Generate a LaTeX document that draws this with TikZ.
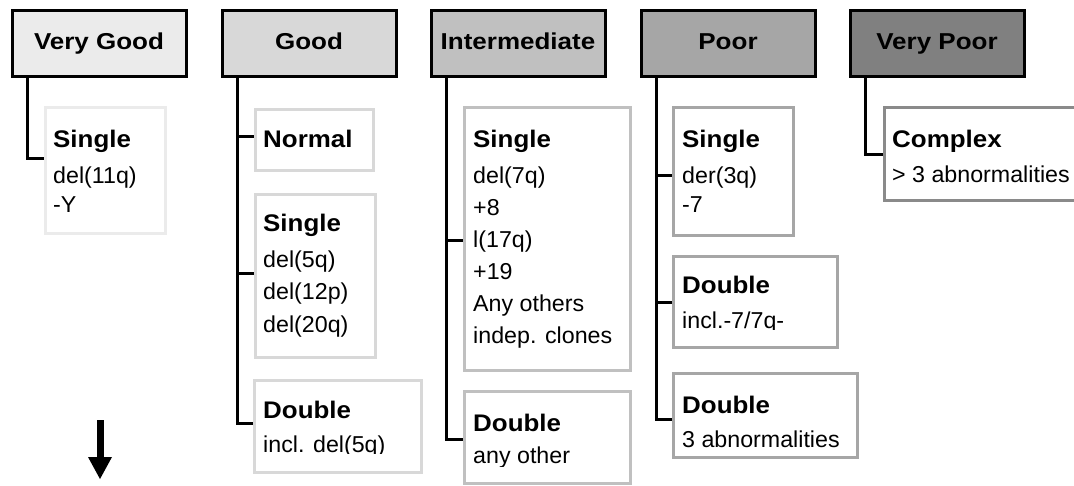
\documentclass[tikz,border=0pt]{standalone}
\usepackage{fontspec}
\newfontfamily\hdfont{Liberation Sans}[FakeStretch=1.13]
\newfontfamily\lbfont{Liberation Sans}[FakeStretch=1.08]
\newfontfamily\bodyfnt{Liberation Sans}[FakeStretch=1.01]
\newcommand\glabel[1]{{\rule{0pt}{20pt}\lbfont\bfseries\fontsize{24}{28}\selectfont #1}}
\definecolor{cvg}{HTML}{EBEBEB}
\definecolor{cgo}{HTML}{D8D8D8}
\definecolor{cin}{HTML}{C0C0C0}
\definecolor{cpo}{HTML}{A6A6A6}
\definecolor{cvp}{HTML}{808080}
\definecolor{cvpb}{HTML}{8A8A8A}
\begin{document}
\begin{tikzpicture}[x=1pt,y=-1pt,
  hdr/.style={draw=black, fill=#1, line width=3pt, minimum width=174pt, minimum height=66pt,
    inner sep=0pt, anchor=north west, font=\hdfont\bfseries\fontsize{23}{27}\selectfont,
    text height=17pt, text depth=5pt},
  cbox/.style={draw=#1, line width=3pt, fill=white, inner sep=0pt, anchor=north west},
  ctext/.style={anchor=north west, inner sep=0pt, align=left, font=\bodyfnt\fontsize{23}{#1}\selectfont},
  conn/.style={draw=black, line width=3pt}]
\useasboundingbox (0,0) rectangle (1074,485);

% headers
\node[hdr=cvg] (hvg) at (10.5,8.5) {Very Good};
\node[hdr=cgo] (hgo) at (220.5,8.5) {Good};
\node[hdr=cin] (hin) at (429.5,8.5) {Intermediate};
\node[hdr=cpo] (hpo) at (639.5,8.5) {Poor};
\node[hdr=cvp] (hvp) at (848.5,8.5) {Very Poor};

% child boxes
\node[cbox=cvg, minimum width=120pt, minimum height=126pt] (vg1) at (43.5,105.5) {};
\node[cbox=cgo, minimum width=118pt, minimum height=61pt] (go1) at (253.5,107.5) {};
\node[cbox=cgo, minimum width=120pt, minimum height=163pt] (go2) at (253.5,192.5) {};
\node[cbox=cgo, minimum width=167pt, minimum height=92pt] (go3) at (252.5,378.5) {};
\node[cbox=cin, minimum width=166pt, minimum height=263pt] (in1) at (462.5,105.5) {};
\node[cbox=cin, minimum width=166pt, minimum height=92pt] (in2) at (462.5,389.5) {};
\node[cbox=cpo, minimum width=120pt, minimum height=128pt] (po1) at (671.5,105.5) {};
\node[cbox=cpo, minimum width=164pt, minimum height=91pt] (po2) at (671.5,254.5) {};
\node[cbox=cpo, minimum width=184pt, minimum height=84pt] (po3) at (671.5,371.5) {};
\begin{scope}
  \clip (0,0) rectangle (1074,485);
  \node[cbox=cvpb, minimum width=200pt, minimum height=93pt] (vp1) at (882.5,105.5) {};
\end{scope}

% connectors
\draw[conn] ([xshift=16.5pt]hvg.south west) |- ([yshift=11.5pt]vg1.west);
\draw[conn] ([xshift=16.5pt]hgo.south west) |- ([yshift=3pt]go1.west);
\draw[conn] ([xshift=16.5pt]hgo.south west) |- ([yshift=2pt]go2.west);
\draw[conn] ([xshift=16.5pt]hgo.south west) |- ([yshift=2.5pt]go3.west);
\draw[conn] ([xshift=16.5pt]hin.south west) |- ([yshift=-2pt]in1.west);
\draw[conn] ([xshift=16.5pt]hin.south west) |- ([yshift=-2.5pt]in2.west);
\draw[conn] ([xshift=16.5pt]hpo.south west) |- ([yshift=-4.5pt]po1.west);
\draw[conn] ([xshift=16.5pt]hpo.south west) |- ([yshift=-1pt]po2.west);
\draw[conn] ([xshift=16.5pt]hpo.south west) |- ([yshift=-4.5pt]po3.west);
\draw[conn] ([xshift=16.5pt]hvp.south west) |- ([yshift=-1pt]vp1.west);

% texts (node top = first baseline - 20)
\node[ctext=29] (vg1t) at (53,127) {\glabel{Single}\\[7pt]del(11q)\\-Y};
\node[ctext=29] (go1t) at (263,127) {\glabel{Normal}};
\node[ctext=32.5] (go2t) at (263,211) {\glabel{Single}\\[3.5pt]del(5q)\\del(12p)\\del(20q)};
\begin{scope}
  \clip (250,375) rectangle (425,453.5);
  \node[ctext=30] (go3t) at (263,398) {\glabel{Double}\\[4pt]incl. del(5q)};
\end{scope}
\node[ctext=32] (in1t) at (473,127) {\glabel{Single}\\[4pt]del(7q)\\+8\\l(17q)\\+19\\Any others\\indep. clones};
\begin{scope}
  \clip (460,385) rectangle (632,466);
  \node[ctext=30] (in2t) at (473,411) {\glabel{Double}\\[2pt]any other};
\end{scope}
\node[ctext=29] (po1t) at (682,127) {\glabel{Single}\\[7pt]der(3q)\\-7};
\begin{scope}
  \clip (668,250) rectangle (840,329.5);
  \node[ctext=30] (po2t) at (682,273) {\glabel{Double}\\[5pt]incl.-7/7q-};
\end{scope}
\node[ctext=30] (po3t) at (682,393) {\glabel{Double}\\[4pt]3 abnormalities};
\node[ctext=30] (vp1t) at (892,127) {\glabel{Complex}\\[5pt]> 3 abnormalities};

% arrow
\coordinate (atop) at (100,420);
\coordinate (abase) at (100,458);
\coordinate (atip) at (100,479);
\draw[line width=7pt] (atop) -- (abase);
\fill ([xshift=-12pt,yshift=1pt]abase) -- ([xshift=12pt,yshift=1pt]abase) -- (atip) -- cycle;
\end{tikzpicture}
\end{document}
